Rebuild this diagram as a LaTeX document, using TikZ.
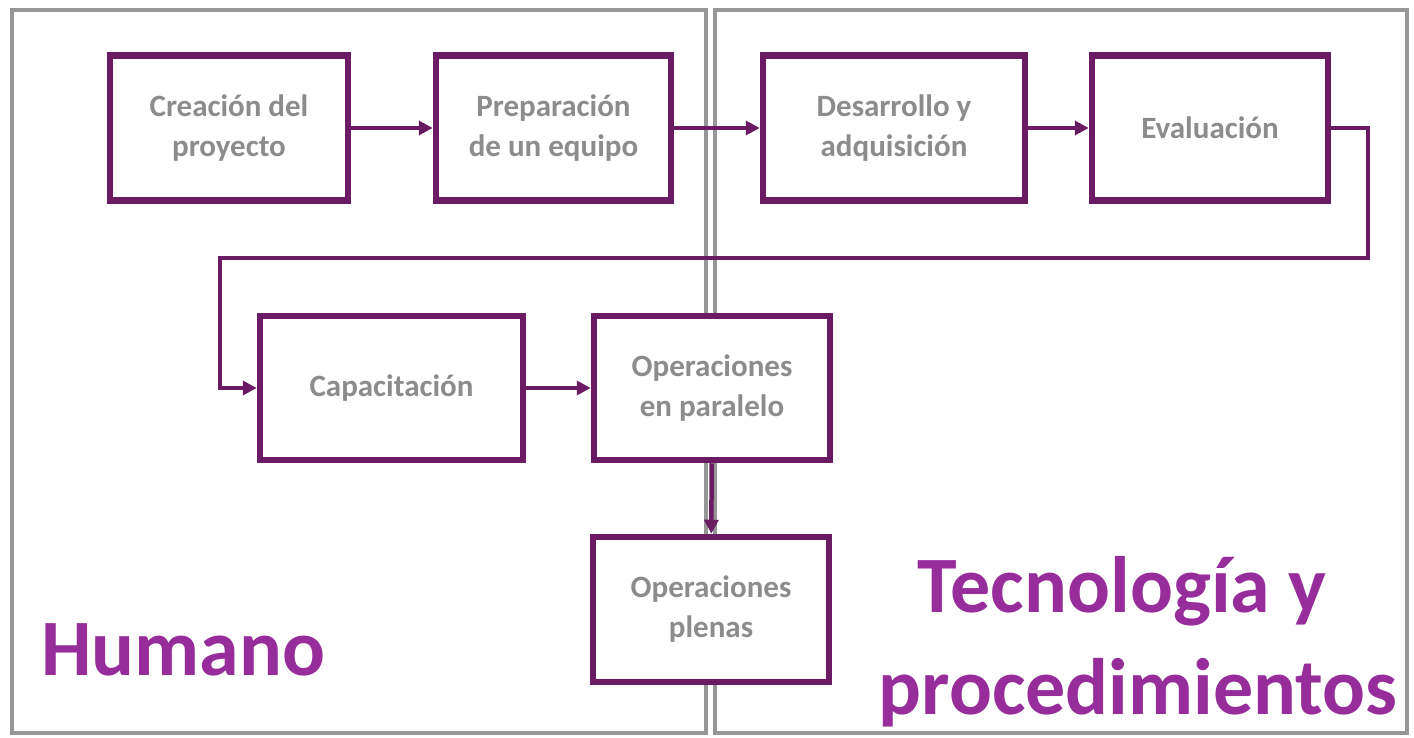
\documentclass[tikz,border=0pt]{standalone}
\usepackage{fontspec}
\setmainfont{Carlito}
\usetikzlibrary{arrows.meta}
\definecolor{boxpurple}{RGB}{106,27,100}
\definecolor{txtgray}{RGB}{140,140,140}
\definecolor{bigpurple}{RGB}{150,45,155}
\definecolor{framegray}{RGB}{150,150,150}
\tikzset{
  stepbox/.style={draw=boxpurple, line width=6.5pt, fill=white, align=center,
    font=\fontsize{31}{40}\selectfont\bfseries, text=txtgray, inner sep=0pt},
  flow/.style={draw=boxpurple, line width=4.5pt, -{Triangle[length=14pt,width=14pt]}},
  frame/.style={draw=framegray, line width=3.5pt},
  bigtext/.style={font=\fontsize{80}{80}\selectfont\bfseries, text=bigpurple, inner sep=0pt, anchor=base}
}
\begin{document}
\begin{tikzpicture}[x=1pt,y=-1pt]
\useasboundingbox[fill=white] (0,0) rectangle (1414,738);
% frames
\draw[frame] (12,10) rectangle (706,733);
\draw[frame] (715,10) rectangle (1407,733);
% boxes
\node[stepbox, minimum width=238pt, minimum height=145pt] (c1) at (229,128) {Creación del\\proyecto};
\node[stepbox, minimum width=235pt, minimum height=145pt] (c2) at (553.5,128) {Preparación\\de un equipo};
\node[stepbox, minimum width=262pt, minimum height=145pt] (c3) at (894,128) {Desarrollo y\\adquisición};
\node[stepbox, minimum width=236pt, minimum height=145pt] (c4) at (1210,128) {Evaluación};
\node[stepbox, minimum width=263pt, minimum height=144pt] (c5) at (391.5,388) {Capacitación};
\node[stepbox, minimum width=236pt, minimum height=144pt] (c6) at (712,388) {Operaciones\\en paralelo};
\node[stepbox, minimum width=236pt, minimum height=145pt] (c7) at (711,609.5) {Operaciones\\plenas};
% connectors
\draw[flow] (c1) -- (c2);
\draw[flow] (c2) -- (c3);
\draw[flow] (c3) -- (c4);
\coordinate (r1) at (1368,128);
\coordinate (r2) at (1368,258);
\coordinate (r3) at (220,258);
\coordinate (r4) at (220,388);
\draw[flow] (c4.east) -- (r1) -- (r2) -- (r3) -- (r4) -- (c5.west);
\draw[flow] (c5) -- (c6);
\draw[flow] (c6) -- (c7);
% big labels
\node[bigtext] (hum) at (183,675) {Humano};
\node[bigtext] (tec) at (1122,612) {Tecnología y};
\node[bigtext] (pro) at (1138,714) {procedimientos};
\end{tikzpicture}
\end{document}
